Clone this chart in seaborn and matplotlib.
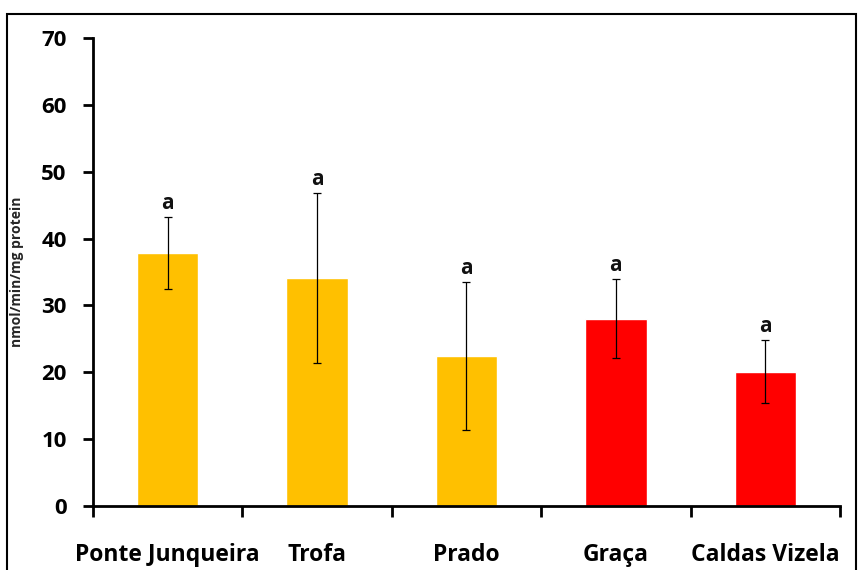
import matplotlib
matplotlib.use("Agg")
import matplotlib.pyplot as plt
import seaborn as sns
import pandas as pd
from matplotlib.patches import Rectangle

sites = ["Ponte Junqueira", "Trofa", "Prado", "Graça", "Caldas Vizela"]
means = [37.8, 34.1, 22.4, 28.0, 20.1]
errors = [5.4, 12.7, 11.1, 5.9, 4.7]
letters = ["a", "a", "a", "a", "a"]
colors = ["#FFC000", "#FFC000", "#FFC000", "#FF0000", "#FF0000"]
yticks = [0, 10, 20, 30, 40, 50, 60, 70]

sns.set_theme(style="white")
plt.rcParams["font.family"] = ["Open Sans", "DejaVu Sans"]

df = pd.DataFrame({"site": sites, "mean": means})

fig = plt.figure(figsize=(8.58, 5.70), dpi=100)
ax = fig.add_axes([0.1084, 0.1123, 0.8706, 0.8210])

sns.barplot(data=df, x="site", y="mean", hue="site", palette=colors,
            order=sites, width=0.41, legend=False, ax=ax, saturation=1,
            errorbar=None)

xs = list(range(len(sites)))
ax.errorbar(xs, means, yerr=errors, fmt="none", ecolor="black",
            elinewidth=0.9, capsize=3, capthick=0.9)

for x, m, e, t in zip(xs, means, errors, letters):
    ax.text(x, m + e + 0.5, t, ha="center", va="bottom",
            fontsize=15, fontweight="bold", color="#111111")

ax.set_ylim(0, 70)
ax.set_xlim(-0.5, len(sites) - 0.5)
ax.set_yticks(yticks)
ax.set_yticklabels([str(v) for v in yticks], fontsize=16, fontweight="bold")

# major ticks at category boundaries, labels at centres
ax.set_xticks([i - 0.5 for i in range(len(sites) + 1)])
ax.set_xticklabels([""] * (len(sites) + 1))
ax.set_xticks(xs, minor=True)
ax.set_xticklabels(sites, minor=True, fontsize=16.5, fontweight="bold")
ax.tick_params(axis="x", which="major", direction="out", length=8, width=2,
               color="black", bottom=True)
ax.tick_params(axis="x", which="minor", length=0, pad=27, colors="black")
ax.tick_params(axis="y", direction="out", length=7, width=2, color="black",
               left=True, pad=12, labelcolor="black")

ax.set_xlabel("")
ax.set_ylabel("nmol/min/mg protein", fontsize=10, fontweight="bold")
ax.yaxis.set_label_coords(-0.092, 0.5)

for s in ["top", "right"]:
    ax.spines[s].set_visible(False)
for s in ["left", "bottom"]:
    ax.spines[s].set_color("black")
    ax.spines[s].set_linewidth(2)

# outer frame around the figure
fig.patches.append(Rectangle((7 / 858, -0.05), 849 / 858, 1 - 14 / 570 + 0.05,
                             transform=fig.transFigure, fill=False,
                             edgecolor="black", linewidth=1.5))

fig.savefig("out.png", dpi=100)
